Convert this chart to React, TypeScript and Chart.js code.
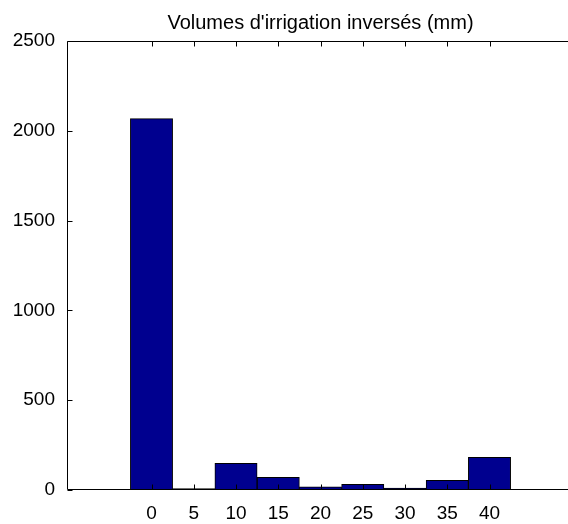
import React, { useEffect, useRef } from 'react';
import { Chart, registerables } from 'chart.js';

Chart.register(...registerables);

const binCenters = [0, 5, 10, 15, 20, 25, 30, 35, 40];
const counts = [2068, 8, 149, 71, 18, 32, 11, 54, 182];
const xTicks = [0, 5, 10, 15, 20, 25, 30, 35, 40];
const yTicks = [0, 500, 1000, 1500, 2000, 2500];
const xRange = [-10, 50];
const yRange = [0, 2500];
const chartTitle = "Volumes d'irrigation inversés (mm)";

const FONT = '"Liberation Sans", Arial, Helvetica, sans-serif';

const frameTicks = {
  id: 'frameTicks',
  afterDatasetsDraw(chart: any) {
    const { ctx, chartArea: a, scales } = chart;
    const x = scales.x;
    const y = scales.y;
    const L = Math.round(a.left) + 0.5;
    const T = Math.round(a.top) + 0.5;
    const R = Math.round(a.right);
    const B = Math.round(a.bottom) - 0.5;
    const len = 5;
    ctx.save();
    ctx.strokeStyle = '#000';
    ctx.lineWidth = 1;
    ctx.beginPath();
    ctx.moveTo(R, T);
    ctx.lineTo(L, T);
    ctx.lineTo(L, B);
    ctx.lineTo(R, B);
    for (const t of x.ticks) {
      const px = Math.round(x.getPixelForValue(t.value)) + 0.5;
      ctx.moveTo(px, B);
      ctx.lineTo(px, B - len);
      ctx.moveTo(px, T);
      ctx.lineTo(px, T + len);
    }
    for (const t of y.ticks) {
      const py = Math.round(y.getPixelForValue(t.value)) + 0.5;
      ctx.moveTo(L, py);
      ctx.lineTo(L + len, py);
    }
    ctx.stroke();
    ctx.restore();
  },
};

export default function App() {
  const ref = useRef<HTMLCanvasElement | null>(null);

  useEffect(() => {
    if (!ref.current) return;
    const chart = new Chart(ref.current, {
      type: 'bar',
      data: {
        datasets: [
          {
            data: binCenters.map((c, i) => ({ x: c, y: counts[i] })),
            backgroundColor: 'rgb(0,0,143)',
            borderColor: '#000',
            borderWidth: 1,
            barPercentage: 1,
            categoryPercentage: 1,
          },
        ],
      },
      options: {
        animation: false,
        responsive: false,
        maintainAspectRatio: false,
        layout: { padding: { top: 0, left: 0, right: 0, bottom: 0 } },
        plugins: {
          legend: { display: false },
          tooltip: { enabled: false },
          title: {
            display: true,
            text: chartTitle,
            fullSize: false,
            color: '#000',
            font: { family: FONT, size: 20, weight: 'normal' },
            padding: { top: 11, bottom: 6 },
          },
        },
        scales: {
          x: {
            type: 'linear',
            min: xRange[0],
            max: xRange[1],
            offset: false,
            grid: { display: false, drawTicks: false },
            border: { display: false },
            afterBuildTicks: (s: any) => {
              s.ticks = xTicks.map((v) => ({ value: v }));
            },
            afterFit: (s: any) => {
              s.height = 34;
            },
            ticks: {
              color: '#000',
              font: { family: FONT, size: 19 },
              padding: 12,
              maxRotation: 0,
              autoSkip: false,
              callback: (v: any) => String(v),
            },
          },
          y: {
            min: yRange[0],
            max: yRange[1],
            grid: { display: false, drawTicks: false },
            border: { display: false },
            afterBuildTicks: (s: any) => {
              s.ticks = yTicks.map((v) => ({ value: v }));
            },
            afterFit: (s: any) => {
              s.width = 67;
            },
            ticks: {
              color: '#000',
              font: { family: FONT, size: 19 },
              padding: 12,
              callback: (v: any) => String(v),
            },
          },
        },
      },
      plugins: [frameTicks],
    } as any);
    return () => chart.destroy();
  }, []);

  return (
    <div
      style={{
        position: 'fixed',
        left: 0,
        top: 0,
        width: 568,
        height: 524,
        overflow: 'hidden',
        background: '#fff',
      }}
    >
      <canvas ref={ref} width={574} height={524} style={{ display: 'block' }} />
    </div>
  );
}
